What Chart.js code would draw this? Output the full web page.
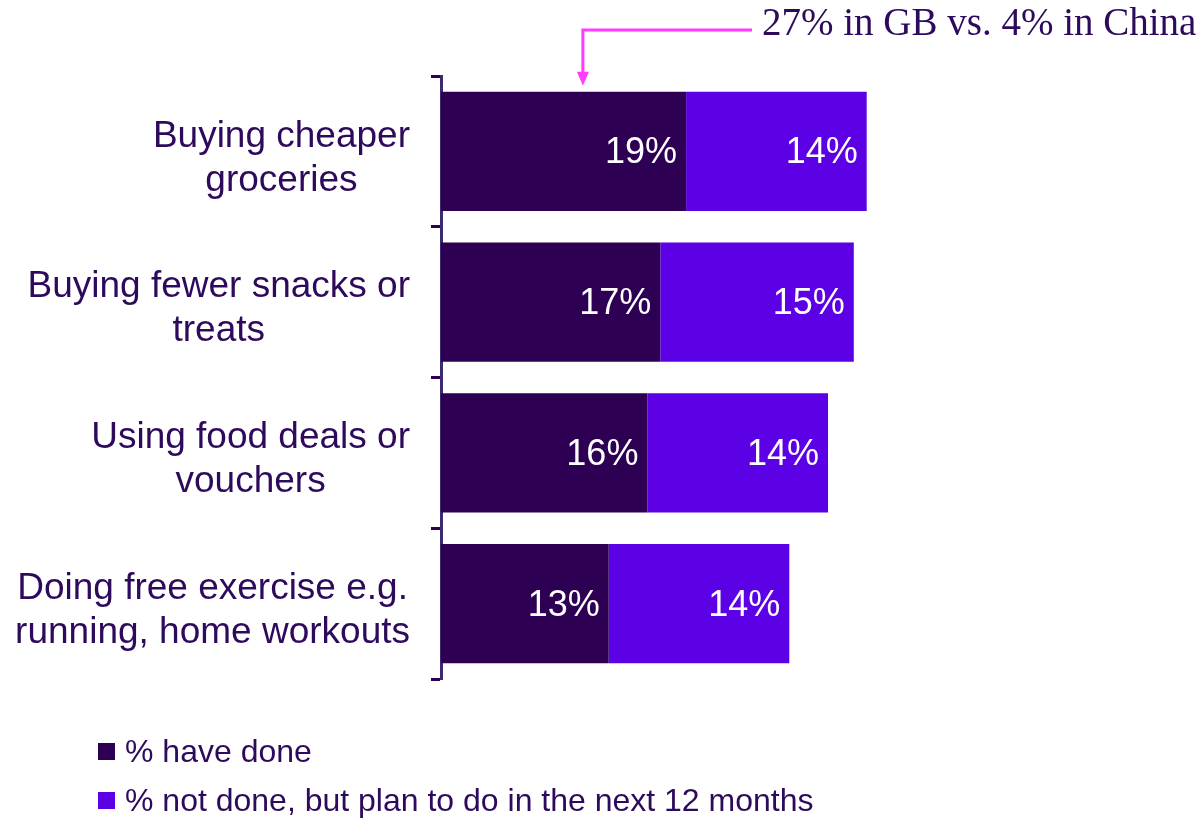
<!DOCTYPE html>
<html>
<head>
<meta charset="utf-8">
<script src="https://cdn.jsdelivr.net/npm/chart.js@4"></script>
<style>
  html, body { margin: 0; padding: 0; background: #fff; }
  #wrap { width: 1198px; height: 819px; }
</style>
</head>
<body>
<div id="wrap"><canvas id="chart" width="1198" height="819"></canvas></div>
<script>
var ctx = document.getElementById('chart').getContext('2d');

// categories, each one split over two lines
var labels = [
  ['Buying cheaper', 'groceries'],
  ['Buying fewer snacks or', 'treats'],
  ['Using food deals or', 'vouchers'],
  ['Doing free exercise e.g.', 'running, home workouts']
];
var haveDone = [19, 17, 16, 13];
var planToDo = [14, 15, 14, 14];
var seriesNames = ['% have done', '% not done, but plan to do in the next 12 months'];
var callout = '27% in GB vs. 4% in China';
var calloutAt = 11;   // x value where the arrow points, first bar

var darkPurple = '#2d0054';
var brightPurple = '#5c00e6';
var textColor = '#2d0a5c';
var pink = '#ff3cff';
var sans = "'Liberation Sans', Arial, sans-serif";

// labels, values, legend and arrow are all painted here
var decorations = {
  id: 'decorations',
  afterDatasetsDraw: function(chart) {
    var c = chart.ctx;
    var yScale = chart.scales.y, xScale = chart.scales.x;
    c.save();

    // category labels: block right aligned, lines centred within it
    c.font = '37px ' + sans;
    c.fillStyle = textColor;
    c.textAlign = 'center';
    c.textBaseline = 'middle';
    labels.forEach(function(lines, i) {
      var w = Math.max.apply(null, lines.map(function(l) { return c.measureText(l).width; }));
      var cx = 410 - w / 2;
      var cy = yScale.getPixelForValue(i) + 7;
      lines.forEach(function(l, j) {
        c.fillText(l, cx, cy + (j - (lines.length - 1) / 2) * 44);
      });
    });

    // value labels near the end of each segment
    c.font = '36px ' + sans;
    c.fillStyle = '#ffffff';
    c.textAlign = 'right';
    chart.data.datasets.forEach(function(ds, di) {
      chart.getDatasetMeta(di).data.forEach(function(bar, i) {
        c.fillText(ds.data[i] + '%', bar.x - 9, bar.y + 2);
      });
    });

    // legend, one series per row
    c.textAlign = 'left';
    c.font = '32px ' + sans;
    chart.data.datasets.forEach(function(ds, di) {
      var y = 752 + di * 49;
      c.fillStyle = ds.backgroundColor;
      c.fillRect(98, y - 9, 17, 17);
      c.fillStyle = textColor;
      c.fillText(ds.label, 125, y + 1);
    });

    // callout arrow into the first bar
    var ax = xScale.getPixelForValue(calloutAt);
    var topBar = chart.getDatasetMeta(0).data[0];
    var tip = topBar.y - topBar.height / 2 - 6;
    c.strokeStyle = pink;
    c.fillStyle = pink;
    c.lineWidth = 3;
    c.beginPath();
    c.moveTo(752, 30);
    c.lineTo(ax, 30);
    c.lineTo(ax, tip - 12);
    c.stroke();
    c.beginPath();
    c.moveTo(ax - 6, tip - 14);
    c.lineTo(ax + 6, tip - 14);
    c.lineTo(ax, tip);
    c.closePath();
    c.fill();

    c.font = "39px 'Liberation Serif', Georgia, serif";
    c.fillStyle = textColor;
    c.textBaseline = 'alphabetic';
    c.fillText(callout, 762, 35);
    c.restore();
  }
};

var config = {
  type: 'bar',
  data: {
    labels: labels,
    datasets: [{
      label: seriesNames[0],
      data: haveDone,
      backgroundColor: darkPurple
    }, {
      label: seriesNames[1],
      data: planToDo,
      backgroundColor: brightPurple
    }]
  },
  options: {
    indexAxis: 'y',
    responsive: false,
    animation: false,
    barPercentage: 0.79,
    categoryPercentage: 1,
    layout: {
      padding: {top: 76, bottom: 140, left: 431, right: 112}
    },
    scales: {
      x: {
        stacked: true,
        min: 0,
        max: 50,
        display: false
      },
      y: {
        stacked: true,
        ticks: {display: false},
        grid: {
          offset: true,
          drawOnChartArea: false,
          tickLength: 10,
          tickWidth: 3,
          tickColor: darkPurple
        },
        border: {color: '#3b2a70', width: 3}
      }
    },
    plugins: {
      legend: {display: false},
      tooltip: {enabled: false}
    }
  },
  plugins: [decorations]
};

var myChart = new Chart(ctx, config);
</script>
</body>
</html>
